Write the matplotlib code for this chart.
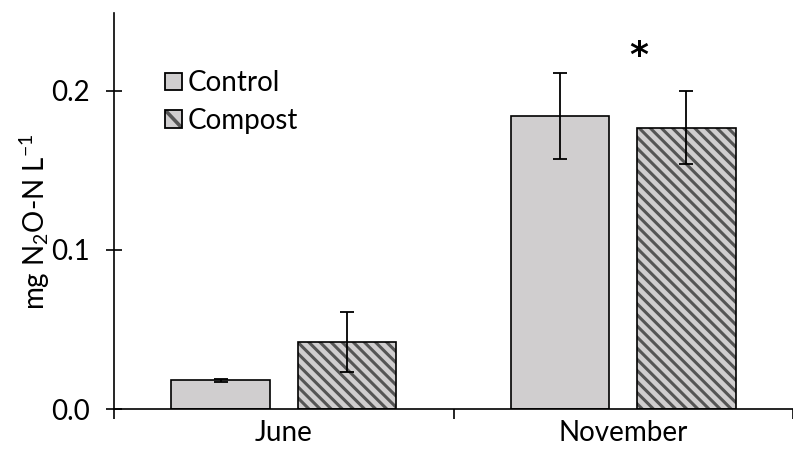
import matplotlib
matplotlib.use("Agg")
import matplotlib.pyplot as plt
from matplotlib.legend_handler import HandlerBase
from matplotlib.lines import Line2D
from matplotlib.patches import Patch, Rectangle
import numpy as np

months = ["June", "November"]
control = [0.018, 0.184]
control_err = [0.001, 0.027]
compost = [0.042, 0.177]
compost_err = [0.019, 0.023]

FILL = "#d0cecf"
HATCH = "#555555"
FS = 20

plt.rcParams["font.family"] = ["Lato", "DejaVu Sans"]
plt.rcParams["mathtext.fontset"] = "custom"
plt.rcParams["mathtext.rm"] = "Lato"
plt.rcParams["mathtext.it"] = "Lato"
plt.rcParams["hatch.linewidth"] = 2.2


class SwatchHandler(HandlerBase):
    """Square legend key; optionally with a single diagonal stripe."""

    def __init__(self, striped=False):
        super().__init__()
        self.striped = striped

    def create_artists(self, legend, orig_handle, xdescent, ydescent,
                       width, height, fontsize, trans):
        x0, y0 = -xdescent, -ydescent
        box = Rectangle((x0, y0), width, height, facecolor=FILL,
                        edgecolor="none", transform=trans)
        arts = [box]
        if self.striped:
            stripe = Line2D([x0, x0 + width], [y0 + height, y0],
                            color=HATCH, lw=2.6, solid_capstyle="butt",
                            transform=trans)
            stripe.set_clip_path(box)
            arts.append(stripe)
        arts.append(Rectangle((x0, y0), width, height, fill=False,
                              edgecolor="black", lw=1.3, transform=trans))
        return arts


fig = plt.figure(figsize=(7.93, 4.59), dpi=100)
ax = fig.add_axes([114 / 793, 50 / 459, 679 / 793, 396 / 459])

x = np.arange(len(months))
off, w = 0.186, 0.29
ekw = dict(ecolor="black", elinewidth=1.3, capsize=5, capthick=1.3)

ax.bar(x - off, control, w, color=FILL, edgecolor="black", linewidth=1.2,
       yerr=control_err, error_kw=ekw, zorder=2)
# hatched bar: stripes in grey, outline drawn on top in black
ax.bar(x + off, compost, w, color=FILL, edgecolor=HATCH, linewidth=0,
       hatch="\\\\\\", zorder=2)
ax.bar(x + off, compost, w, fill=False, edgecolor="black", linewidth=1.2,
       yerr=compost_err, error_kw=ekw, zorder=3)

ax.set_xlim(-0.5, -0.5 + 679 / 343)
ax.set_ylim(0, 0.249)
ax.set_yticks([0.0, 0.1, 0.2])
ax.set_yticklabels(["0.0", "0.1", "0.2"])
ax.set_xticks(x)
ax.set_xticklabels(months)
ax.set_xticks([-0.5, 0.5, 1.5], minor=True)
ax.tick_params(axis="x", which="major", length=0, labelsize=FS, pad=8)
ax.tick_params(axis="x", which="minor", length=7, width=1.2, direction="out")
ax.tick_params(axis="y", direction="inout", length=11, width=1.2,
               labelsize=FS, pad=12)

for s in ["top", "right"]:
    ax.spines[s].set_visible(False)
ax.spines["left"].set_linewidth(1.2)
ax.spines["bottom"].set_linewidth(1.2)

fig.text(35 / 793, (459 - 222) / 459, "mg N$_2$O-N L$^{-1}$", fontsize=FS,
         rotation=90, ha="center", va="center")

h_ctrl, h_comp = Patch(), Patch()
ax.legend([h_ctrl, h_comp], ["Control", "Compost"], loc="upper left",
          bbox_to_anchor=(0.075, 0.855), frameon=False, fontsize=FS,
          handlelength=0.6, handleheight=0.6, handletextpad=0.2,
          labelspacing=0.4, borderpad=0, borderaxespad=0,
          handler_map={h_ctrl: SwatchHandler(), h_comp: SwatchHandler(True)})

ax.text(1.045, 0.222, "*", ha="center", va="center", fontsize=26,
        fontweight="bold", family="DejaVu Sans")

fig.savefig("out.png", dpi=100)
